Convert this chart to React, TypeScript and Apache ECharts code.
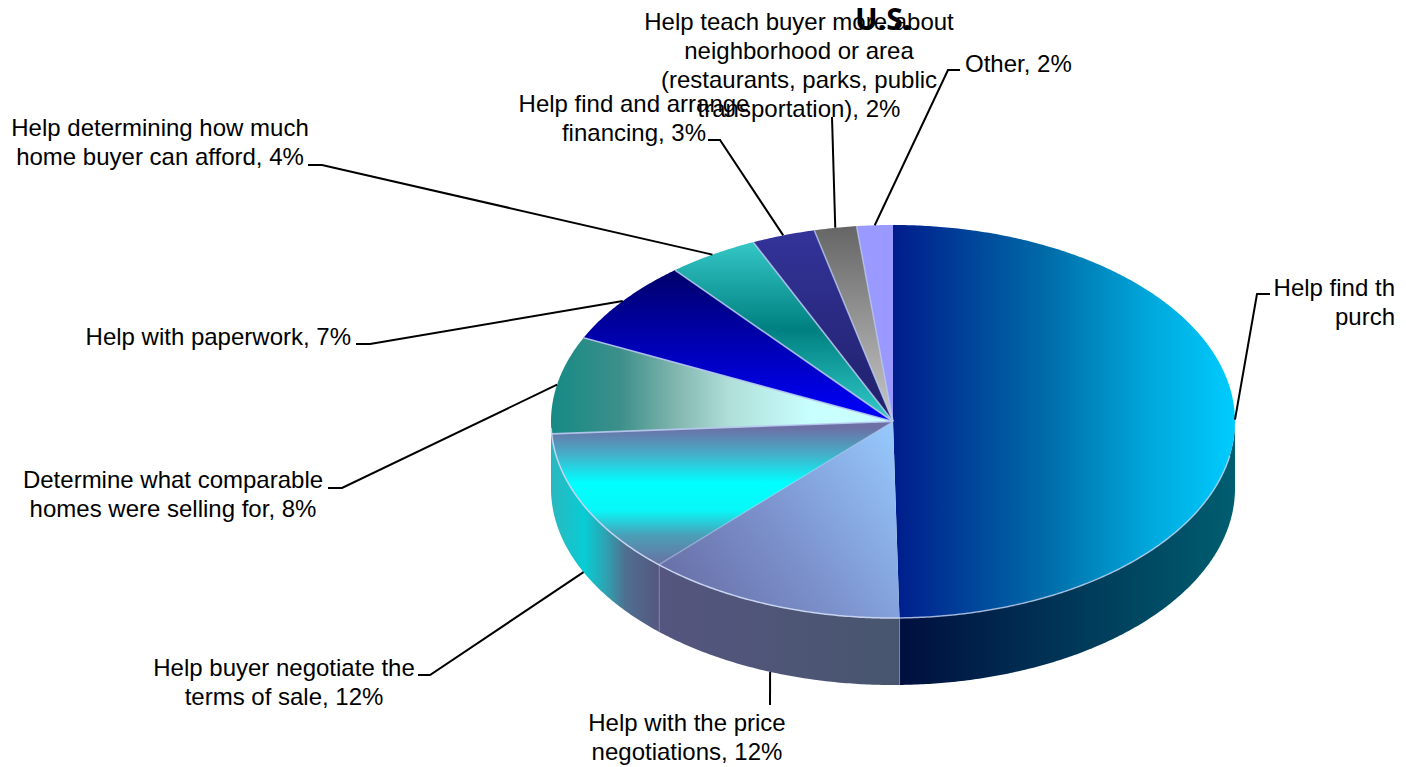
import React, { useEffect, useRef } from "react";
import * as echarts from "echarts";

const chartTitle = "U.S.";
const sliceNames = [
  "Help find the right home to purchase",
  "Help with the price negotiations",
  "Help buyer negotiate the terms of sale",
  "Determine what comparable homes were selling for",
  "Help with paperwork",
  "Help determining how much home buyer can afford",
  "Help find and arrange financing",
  "Help teach buyer more about neighborhood or area",
  "Other",
];
const sliceValues = [49.7, 12.3, 12, 8, 7, 4.3, 3, 2, 1.7];
const labelTexts = [
  "Help find th\npurch",
  "Help with the price\nnegotiations, 12%",
  "Help buyer negotiate the\nterms of sale, 12%",
  "Determine what comparable\nhomes were selling for, 8%",
  "Help with paperwork, 7%",
  "Help determining how much\nhome buyer can afford, 4%",
  "Help find and arrange\nfinancing, 3%",
  "Help teach buyer more about\nneighborhood or area\n(restaurants, parks, public\ntransportation), 2%",
  "Other, 2%",
];

// layout (not data)
const CX = 893, CY = 421.5, RX = 342, RY = 196.5, DEPTH = 67;
const FONT = '24px "Liberation Sans", Arial, sans-serif';
const LINE_H = 29;
const labelPos: [number, number, "left" | "center" | "right"][] = [
  [1395, 273, "right"],
  [687, 708, "center"],
  [284, 653, "center"],
  [173, 465, "center"],
  [351, 322, "right"],
  [160, 113, "center"],
  [634, 89, "center"],
  [799, 7, "center"],
  [965, 49, "left"],
];
const elbows: number[][][] = [
  [[1270, 294], [1257, 294]],
  [[770, 705], [770, 705]],
  [[418, 675], [430, 675]],
  [[328, 488], [342, 488]],
  [[356, 344], [370, 344]],
  [[308, 165], [322, 165]],
  [[708, 140], [720, 140]],
  [[832, 117], [832, 117]],
  [[960, 70], [948, 70]],
];

const lin = (x: number, y: number, x2: number, y2: number, stops: [number, string][]) => ({
  type: "linear", global: true, x, y, x2, y2,
  colorStops: stops.map(([offset, color]) => ({ offset, color })),
});
const topFills = [
  lin(893, 0, 1236, 0, [[0, "#001c8c"], [0.45, "#006ca8"], [0.75, "#00a8dc"], [1, "#00ccff"]]),
  lin(660, 600, 893, 430, [[0, "#666aa2"], [0.5, "#7d94cf"], [1, "#96c8fc"]]),
  lin(0, 428, 0, 565, [[0, "#6c70a5"], [0.19, "#45aec8"], [0.4, "#00ffff"], [0.6, "#08f8f8"], [0.78, "#4aa0b8"], [1, "#6a70a0"]]),
  lin(552, 0, 893, 0, [[0, "#168a85"], [0.2, "#3d8f8a"], [0.36, "#80b5ae"], [0.52, "#b0dfd8"], [0.76, "#c8ffff"], [1, "#ccffff"]]),
  lin(0, 270, 0, 421, [[0, "#00006a"], [0.5, "#0000b4"], [1, "#0000ff"]]),
  lin(0, 245, 0, 421, [[0, "#33c4c4"], [0.48, "#008080"], [1, "#33cccc"]]),
  lin(0, 232, 0, 421, [[0, "#333399"], [1, "#20206a"]]),
  lin(0, 227, 0, 421, [[0, "#666666"], [1, "#c8c8c8"]]),
  "#9999ff",
];
const wallFills = [
  lin(900, 0, 1236, 0, [[0, "#000f3e"], [1, "#005e70"]]),
  lin(660, 0, 900, 0, [[0, "#55557f"], [1, "#47566e"]]),
  lin(552, 0, 660, 0, [[0, "#2bb8c0"], [0.3, "#08ccd4"], [0.5, "#2ea2b2"], [0.68, "#4f6f90"], [1, "#55557f"]]),
  "#168a85",
];
const separatorAlpha = [0, 0.35, 0.9, 0.9, 0.85, 0.85, 0.75, 0.7, 0];

const total = sliceValues.reduce((a, b) => a + b, 0);
const starts: number[] = [];
sliceValues.reduce((acc, v, i) => { starts[i] = acc; return acc + v; }, 0);
const toDeg = (v: number) => (v / total) * 360;
const rim = (deg: number, dy = 0): number[] => {
  const r = (deg * Math.PI) / 180;
  return [CX + RX * Math.sin(r), CY - RY * Math.cos(r) + dy];
};
const arc = (a: number, b: number, dy = 0): number[][] => {
  const pts: number[][] = [];
  const n = Math.max(2, Math.ceil(Math.abs(b - a) * 2));
  for (let i = 0; i <= n; i++) pts.push(rim(a + ((b - a) * i) / n, dy));
  return pts;
};

const renderWall = (params: any, api: any) => {
  const i = params.dataIndex;
  const a = Math.max(90, toDeg(starts[i]));
  const b = Math.min(270, toDeg(starts[i] + api.value(0)));
  if (b <= a) return { type: "group", children: [] };
  const children: any[] = [{
    type: "polygon", silent: true,
    shape: { points: [...arc(a, b), ...arc(b, a, DEPTH)] },
    style: { fill: wallFills[i], stroke: "none" },
  }];
  if (i < 2) {
    children.push({
      type: "line", silent: true,
      shape: { x1: rim(b)[0], y1: rim(b)[1], x2: rim(b)[0], y2: rim(b)[1] + DEPTH },
      style: { stroke: "#a4a8c4", lineWidth: 1.2 },
    });
  }
  return { type: "group", children };
};
const renderTop = (params: any, api: any) => {
  const i = params.dataIndex;
  const a = toDeg(starts[i]);
  const b = toDeg(starts[i] + api.value(0));
  return {
    type: "polygon", silent: true,
    shape: { points: [[CX, CY], ...arc(a, b)] },
    style: { fill: topFills[i], stroke: "none" },
  };
};
const renderSeparator = (params: any, api: any) => {
  const i = params.dataIndex;
  const p = rim(toDeg(starts[i] + api.value(0)));
  const children: any[] = [{
    type: "line", silent: true,
    shape: { x1: CX, y1: CY, x2: p[0], y2: p[1] },
    style: { stroke: "#b6c8ee", lineWidth: 1.6, opacity: separatorAlpha[i] },
  }];
  const a = Math.max(100, toDeg(starts[i]));
  const b = Math.min(268, toDeg(starts[i] + api.value(0)));
  if (b > a) {
    children.push({
      type: "polyline", silent: true,
      shape: { points: arc(a, b) },
      style: { stroke: "#c6d4f0", lineWidth: 1.5, fill: "none", opacity: i === 0 ? 0.75 : 1 },
    });
  }
  return { type: "group", children };
};
const renderLeader = (params: any, api: any) => {
  const i = params.dataIndex;
  const mid = toDeg(starts[i] + api.value(0) / 2);
  const onWall = mid > 135 && mid < 270;
  const end = rim(mid, onWall ? DEPTH : 0);
  return {
    type: "polyline", silent: true,
    shape: { points: [...elbows[i], end] },
    style: { stroke: "#000000", lineWidth: 2, fill: "none" },
  };
};

const customSeries = (name: string, renderItem: any, z: number) => ({
  type: "custom", name, coordinateSystem: "none", renderItem, z, silent: true,
  data: sliceValues.map((value, i) => ({ name: sliceNames[i], value: [value] })),
});

export default function App() {
  const ref = useRef<HTMLDivElement>(null);
  useEffect(() => {
    const chart = echarts.init(ref.current!, undefined, { renderer: "svg" });
    chart.setOption({
      animation: false,
      backgroundColor: "#ffffff",
      title: {
        text: chartTitle, left: 855, top: 3, padding: 0, z: 12,
        textStyle: { fontFamily: '"Open Sans", sans-serif', fontWeight: "bold", fontSize: 30, color: "#000000" },
      },
      series: [
        customSeries("walls", renderWall, 1),
        customSeries("tops", renderTop, 2),
        customSeries("separators", renderSeparator, 3),
        customSeries("leaders", renderLeader, 4),
      ],
      graphic: labelTexts.map((text, i) => ({
        type: "text", x: labelPos[i][0], y: labelPos[i][1], z: 10, silent: true,
        style: { text, font: FONT, fill: "#000000", textAlign: labelPos[i][2], textVerticalAlign: "top", lineHeight: LINE_H },
      })),
    });
    return () => chart.dispose();
  }, []);
  return <div ref={ref} style={{ position: "fixed", left: 0, top: 0, width: 1406, height: 767 }} />;
}
